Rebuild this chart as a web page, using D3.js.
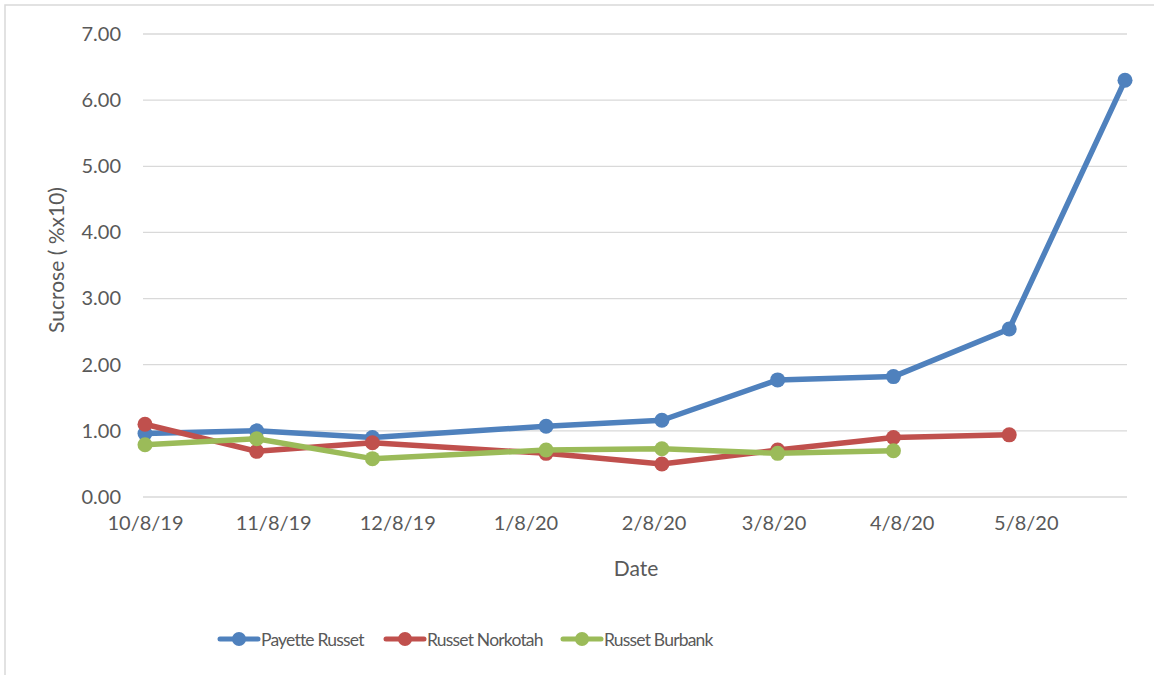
<!DOCTYPE html>
<html><head><meta charset="utf-8">
<script src="https://cdn.jsdelivr.net/npm/d3@7"></script>
<style>body{margin:0;background:#fff;} svg{display:block;} text{font-family:Lato,"Open Sans",sans-serif;fill:#595959;}</style>
</head><body>
<svg id="chart" width="1154" height="675"></svg>
<script>
const seriesNames = ["Payette Russet", "Russet Norkotah", "Russet Burbank"];
const seriesColors = ["#4f81bd", "#c0504d", "#9bbb59"];
const payetteDates = ["2019-10-08","2019-11-04","2019-12-02","2020-01-13","2020-02-10","2020-03-09","2020-04-06","2020-05-04","2020-06-01"];
const payetteValues = [0.96, 1.00, 0.90, 1.07, 1.16, 1.77, 1.82, 2.54, 6.30];
const norkotahDates = ["2019-10-08","2019-11-04","2019-12-02","2020-01-13","2020-02-10","2020-03-09","2020-04-06","2020-05-04"];
const norkotahValues = [1.10, 0.69, 0.82, 0.66, 0.50, 0.71, 0.90, 0.94];
const burbankDates = ["2019-10-08","2019-11-04","2019-12-02","2020-01-13","2020-02-10","2020-03-09","2020-04-06"];
const burbankValues = [0.79, 0.88, 0.58, 0.71, 0.73, 0.66, 0.70];
const xTickLabels = ["10/8/19","11/8/19","12/8/19","1/8/20","2/8/20","3/8/20","4/8/20","5/8/20"];
const yTicks = [0,1,2,3,4,5,6,7];

const parse = d3.timeParse("%Y-%m-%d");
const tickParse = d3.timeParse("%m/%d/%y");
const series = [
  {name: seriesNames[0], color: seriesColors[0], pts: payetteDates.map((d,i)=>({d:parse(d), v:payetteValues[i]}))},
  {name: seriesNames[1], color: seriesColors[1], pts: norkotahDates.map((d,i)=>({d:parse(d), v:norkotahValues[i]}))},
  {name: seriesNames[2], color: seriesColors[2], pts: burbankDates.map((d,i)=>({d:parse(d), v:burbankValues[i]}))}
];

const svg = d3.select("#chart");
// chart border
svg.append("rect").attr("x",5).attr("y",5).attr("width",1160).attr("height",680)
  .attr("fill","none").attr("stroke","#d9d9d9").attr("stroke-width",1.5);

const x = d3.scaleTime().domain([parse("2019-10-08"), parse("2020-06-01")]).range([145, 1125]);
const y = d3.scaleLinear().domain([0,7]).range([497, 34]);

// gridlines
svg.append("g").selectAll("line").data(yTicks).join("line")
  .attr("x1",143).attr("x2",1127)
  .attr("y1",d=>y(d)).attr("y2",d=>y(d))
  .attr("stroke","#d9d9d9").attr("stroke-width",1.3);

// y axis labels
const yAxis = d3.axisLeft(y).tickValues(yTicks).tickFormat(d3.format(".2f")).tickSize(0).tickPadding(0);
const yg = svg.append("g").attr("transform","translate(121,0)").call(yAxis);
yg.select(".domain").remove();
yg.selectAll("text").attr("font-size",20).style("fill","#595959").attr("font-family","Lato, 'Open Sans', sans-serif");

// x axis labels
const xAxis = d3.axisBottom(x).tickValues(xTickLabels.map(t=>tickParse(t))).tickFormat((d,i)=>xTickLabels[i]).tickSize(0).tickPadding(0);
const xg = svg.append("g").attr("transform","translate(0,516)").call(xAxis);
xg.select(".domain").remove();
xg.selectAll("text").attr("font-size",20).style("fill","#595959").attr("font-family","Lato, 'Open Sans', sans-serif");

// axis titles
svg.append("text").attr("x",636).attr("y",576).attr("text-anchor","middle").attr("font-size",21).text("Date");
svg.append("text").attr("transform","translate(64,260) rotate(-90)").attr("text-anchor","middle").attr("font-size",21).text("Sucrose ( %x10)");

// lines and markers
const line = d3.line().x(p=>x(p.d)).y(p=>y(p.v));
series.forEach(s=>{
  const g = svg.append("g");
  g.append("path").datum(s.pts).attr("d",line).attr("fill","none")
    .attr("stroke",s.color).attr("stroke-width",5.5).attr("stroke-linejoin","round").attr("stroke-linecap","round");
  g.selectAll("circle").data(s.pts).join("circle")
    .attr("cx",p=>x(p.d)).attr("cy",p=>y(p.v)).attr("r",7.5).attr("fill",s.color);
});

// legend
const legendX = [220, 386, 563];
const legendY = 639;
series.forEach((s,i)=>{
  const g = svg.append("g").attr("transform",`translate(${legendX[i]},${legendY})`);
  g.append("line").attr("x1",0).attr("x2",38).attr("y1",0).attr("y2",0)
    .attr("stroke",s.color).attr("stroke-width",5).attr("stroke-linecap","round");
  g.append("circle").attr("cx",19).attr("cy",0).attr("r",7).attr("fill",s.color);
  g.append("text").attr("x",41).attr("y",7).attr("font-size",17.5).attr("letter-spacing",-0.8).text(s.name);
});
</script>
</body></html>
